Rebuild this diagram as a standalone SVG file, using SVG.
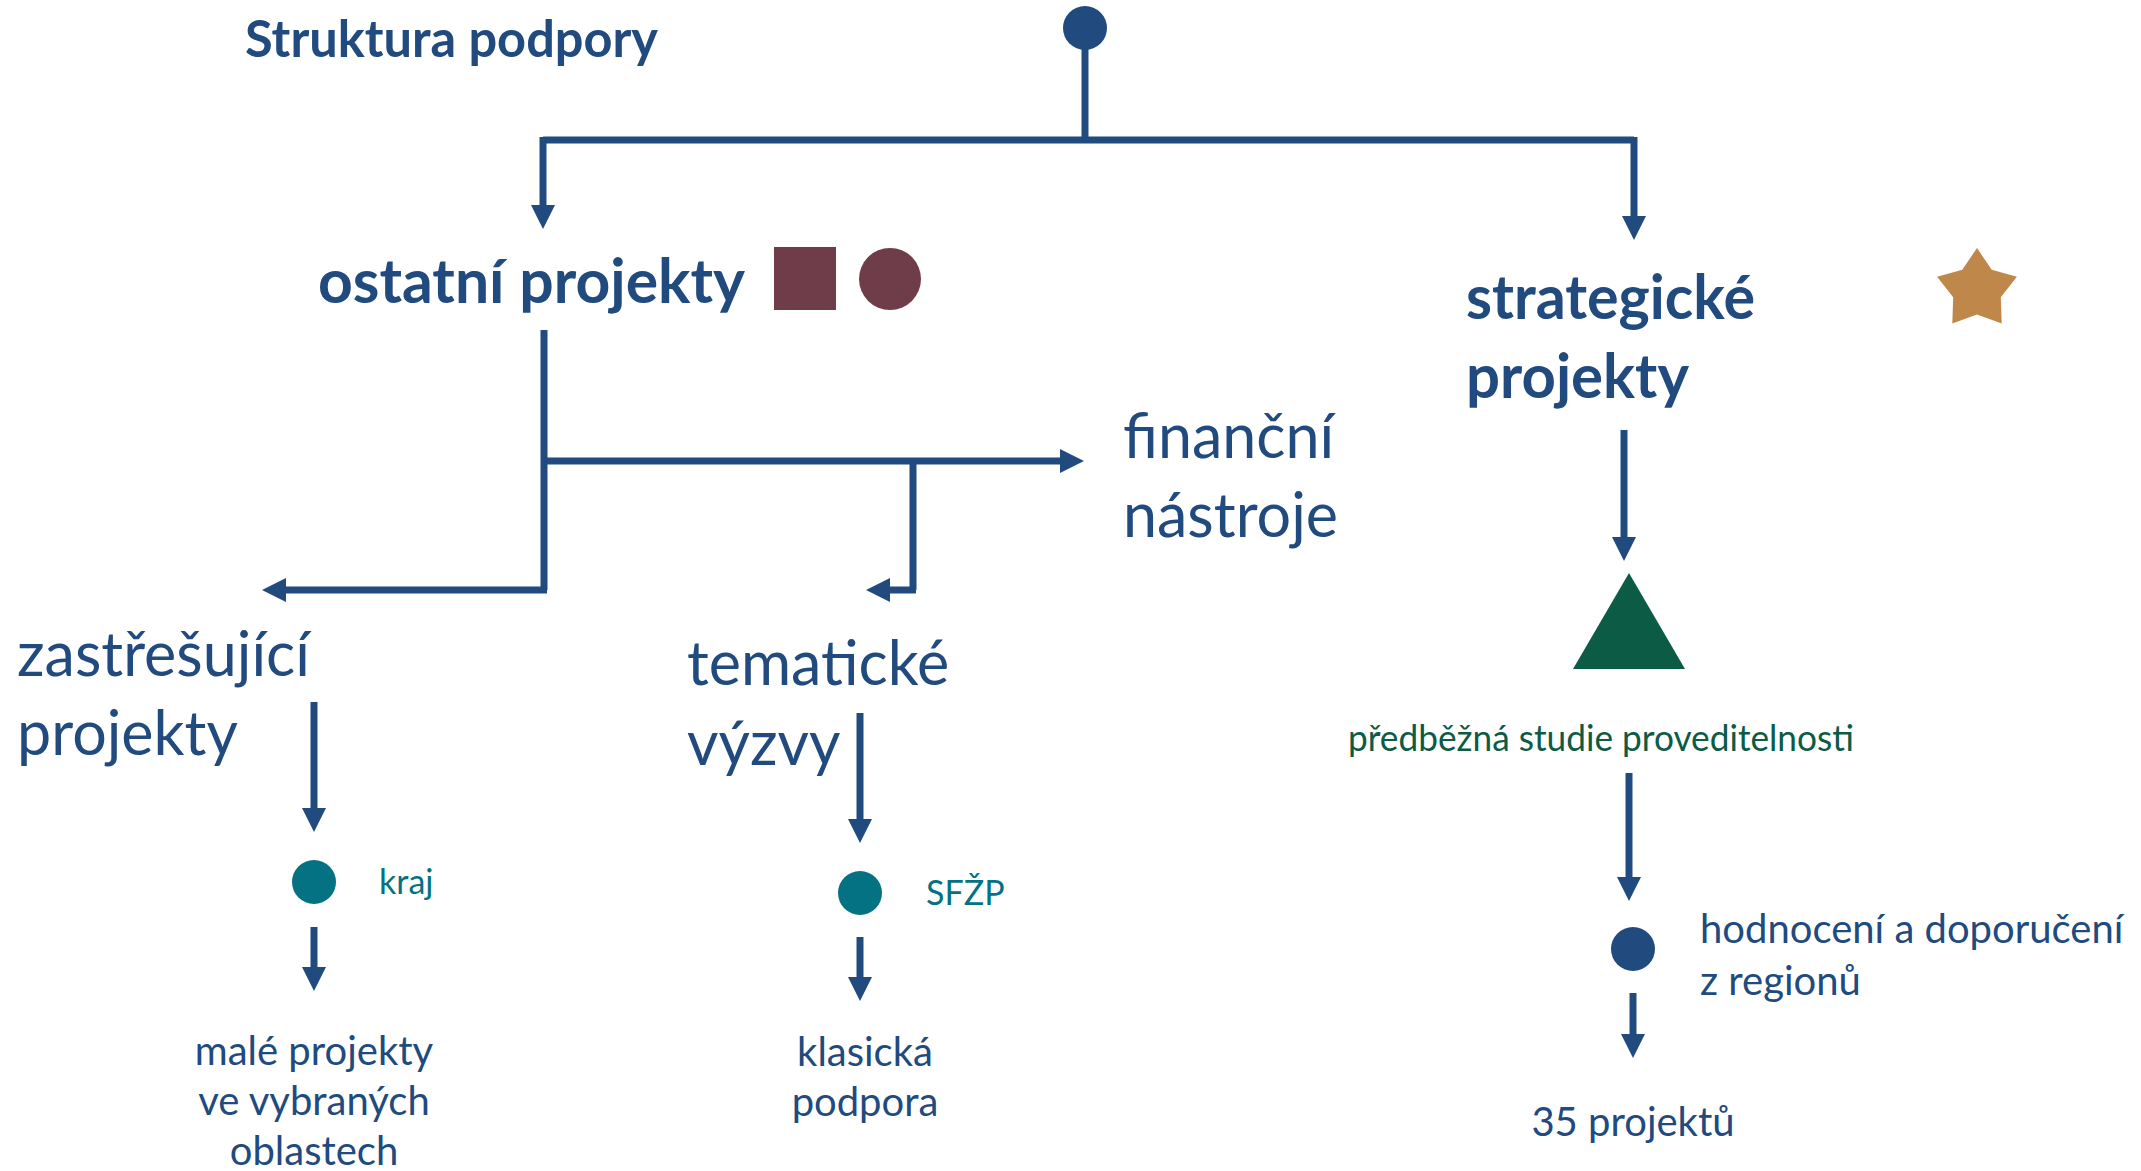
<svg xmlns="http://www.w3.org/2000/svg" width="2141" height="1171" viewBox="0 0 2141 1171">
<defs>
<style>
.t{font-family:Lato,"Open Sans","Liberation Sans",sans-serif;fill:#214A7E}
.b{font-weight:bold}
.big{font-size:61px}
.mid{font-size:40px}
.teal{fill:#047282;font-size:34px}
.grn{fill:#0B5B45;font-size:36px}
.c{text-anchor:middle}
.ln{fill:none;stroke:#214A7E;stroke-width:7}
.ar{marker-end:url(#ah)}
</style>
<marker id="ah" markerUnits="userSpaceOnUse" markerWidth="24" markerHeight="24" refX="0" refY="12" orient="auto" viewBox="0 0 24 24">
<path d="M0,0 L24,12 L0,24 Z" fill="#214A7E"/>
</marker>
</defs>
<rect width="2141" height="1171" fill="#FFFFFF"/>
<g id="connectors">
<path class="ln" d="M1085,48 V140"/>
<path class="ln" d="M543,140 H1634"/>
<path class="ln ar" d="M543,137 V205"/>
<path class="ln ar" d="M1634,137 V216"/>
<path class="ln" d="M544,330 V590"/>
<path class="ln ar" d="M547,590 H286"/>
<path class="ln ar" d="M544,461 H1060"/>
<path class="ln" d="M913,461 V590"/>
<path class="ln ar" d="M916,590 H890"/>
<path class="ln ar" d="M314,702 V808"/>
<path class="ln ar" d="M314,927 V967"/>
<path class="ln ar" d="M860,713 V819"/>
<path class="ln ar" d="M860,937 V977"/>
<path class="ln ar" d="M1624,430 V537"/>
<path class="ln ar" d="M1629,773 V877"/>
<path class="ln ar" d="M1633,993 V1034"/>
</g>
<g id="root">
<circle cx="1085" cy="28" r="22" fill="#214A7E"/>
</g>
<g id="title">
<text class="t b" x="245" y="57" font-size="51" textLength="413" lengthAdjust="spacingAndGlyphs">Struktura podpory</text>
</g>
<g id="ostatni">
<text class="t b big" x="318" y="303" textLength="427" lengthAdjust="spacingAndGlyphs">ostatní projekty</text>
<rect x="774" y="247" width="62" height="63" fill="#6F3C4A"/>
<circle cx="890" cy="279" r="31" fill="#6F3C4A"/>
</g>
<g id="strategicke">
<text class="t b big" x="1466" y="319" textLength="289" lengthAdjust="spacingAndGlyphs">strategické</text>
<text class="t b big" x="1466" y="398" textLength="223" lengthAdjust="spacingAndGlyphs">projekty</text>
<polygon fill="#C0874B" points="1977,248 1991.7,269.8 2016.9,276.7 2000.8,297.3 2001.7,323.4 1977,314.5 1952.3,323.4 1953.2,297.3 1937.1,276.7 1962.3,269.8"/>
</g>
<g id="financni">
<text class="t big" x="1123" y="458">finanční</text>
<text class="t big" x="1123" y="537">nástroje</text>
</g>
<g id="zastresujici">
<text class="t big" x="17" y="676">zastřešující</text>
<text class="t big" x="17" y="755">projekty</text>
</g>
<g id="tematicke">
<text class="t big" x="687" y="685">tematické</text>
<text class="t big" x="687" y="765">výzvy</text>
</g>
<g id="kraj">
<circle cx="314" cy="882" r="22" fill="#047282"/>
<text class="t teal" x="379" y="894">kraj</text>
</g>
<g id="sfzp">
<circle cx="860" cy="893" r="22" fill="#047282"/>
<text class="t teal" x="926" y="905">SFŽP</text>
</g>
<g id="male">
<text class="t mid c" x="314" y="1065">malé projekty</text>
<text class="t mid c" x="314" y="1115">ve vybraných</text>
<text class="t mid c" x="314" y="1165">oblastech</text>
</g>
<g id="klasicka">
<text class="t mid c" x="865" y="1066">klasická</text>
<text class="t mid c" x="865" y="1116">podpora</text>
</g>
<g id="studie">
<polygon points="1629,573 1685,669 1573,669" fill="#0B5B45"/>
<text class="t grn" x="1348" y="751" textLength="506" lengthAdjust="spacingAndGlyphs">předběžná studie proveditelnosti</text>
</g>
<g id="hodnoceni">
<circle cx="1633" cy="949" r="22" fill="#214A7E"/>
<text class="t mid" x="1700" y="943">hodnocení a doporučení</text>
<text class="t mid" x="1700" y="995">z regionů</text>
</g>
<g id="projekty35">
<text class="t mid c" x="1633" y="1136">35 projektů</text>
</g>
</svg>
